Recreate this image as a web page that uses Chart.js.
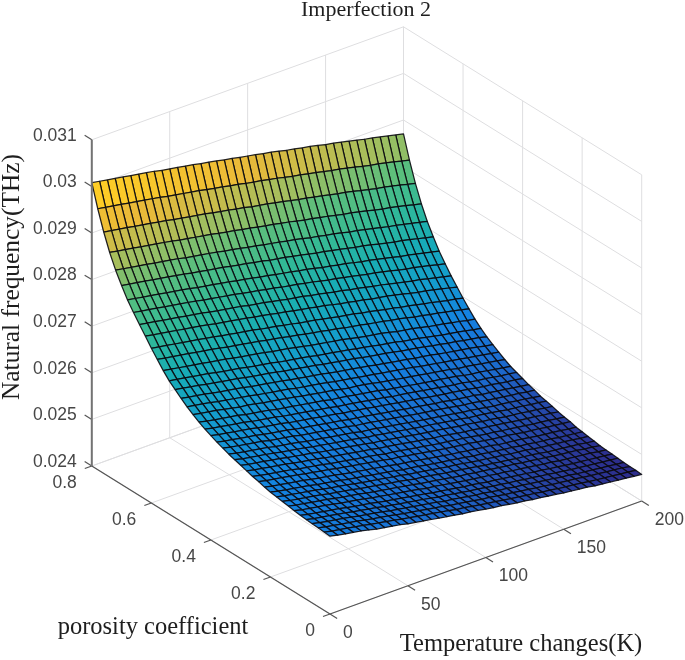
<!DOCTYPE html>
<html>
<head>
<meta charset="utf-8">
<title>Imperfection 2</title>
<script src="https://cdn.jsdelivr.net/npm/chart.js@4"></script>
<style>
  html, body { margin: 0; padding: 0; background: #fff; }
  canvas { display: block; filter: blur(0.5px); }
</style>
</head>
<body>
<canvas id="myChart" width="685" height="660"></canvas>
<script>
const temperatures = [0,5,10,15,20,25,30,35,40,45,50,55,60,65,70,75,80,85,90,95,100,105,110,115,120,125,130,135,140,145,150,155,160,165,170,175,180,185,190,195,200]
const porosities = [0.8,0.78,0.76,0.74,0.72,0.7,0.68,0.66,0.64,0.62,0.6,0.58,0.56,0.54,0.52,0.5,0.48,0.46,0.44,0.42,0.4,0.38,0.36,0.34,0.32,0.3,0.28,0.26,0.24,0.22,0.2,0.18,0.16,0.14,0.12,0.1,0.08,0.06,0.04,0.02,0]
const tempTicks = [0, 50, 100, 150, 200]
const porosityTicks = [0, 0.2, 0.4, 0.6, 0.8]
const freqTicks = [24, 25, 26, 27, 28, 29, 30, 31]
const freqTickLabels = ["0.024", "0.025", "0.026", "0.027", "0.028", "0.029", "0.03", "0.031"]

// natural frequency in 1e-3 THz, one row per porosity, one column per temperature
const frequency = [
[30.08,30.05,30.02,29.99,29.96,29.93,29.90,29.87,29.84,29.80,29.77,29.74,29.71,29.68,29.64,29.61,29.58,29.54,29.51,29.47,29.44,29.41,29.37,29.34,29.30,29.26,29.23,29.19,29.16,29.12,29.08,29.05,29.01,28.97,28.93,28.89,28.86,28.82,28.78,28.74,28.70],
[29.60,29.57,29.54,29.51,29.48,29.45,29.42,29.39,29.36,29.32,29.29,29.26,29.23,29.20,29.16,29.13,29.10,29.06,29.03,28.99,28.96,28.93,28.89,28.86,28.82,28.78,28.75,28.71,28.68,28.64,28.60,28.57,28.53,28.49,28.45,28.41,28.38,28.34,28.30,28.26,28.22],
[29.18,29.15,29.12,29.09,29.06,29.03,29.00,28.97,28.94,28.90,28.87,28.84,28.81,28.78,28.74,28.71,28.68,28.64,28.61,28.57,28.54,28.51,28.47,28.44,28.40,28.36,28.33,28.29,28.26,28.22,28.18,28.15,28.11,28.07,28.03,27.99,27.96,27.92,27.88,27.84,27.80],
[28.82,28.79,28.76,28.73,28.70,28.67,28.64,28.61,28.58,28.54,28.51,28.48,28.45,28.42,28.38,28.35,28.32,28.28,28.25,28.21,28.18,28.15,28.11,28.08,28.04,28.00,27.97,27.93,27.90,27.86,27.82,27.79,27.75,27.71,27.67,27.63,27.60,27.56,27.52,27.48,27.44],
[28.52,28.49,28.46,28.43,28.40,28.37,28.34,28.31,28.28,28.24,28.21,28.18,28.15,28.12,28.08,28.05,28.02,27.98,27.95,27.91,27.88,27.85,27.81,27.78,27.74,27.70,27.67,27.63,27.60,27.56,27.52,27.49,27.45,27.41,27.37,27.33,27.30,27.26,27.22,27.18,27.14],
[28.27,28.24,28.21,28.18,28.15,28.12,28.09,28.06,28.03,27.99,27.96,27.93,27.90,27.87,27.83,27.80,27.77,27.73,27.70,27.66,27.63,27.60,27.56,27.53,27.49,27.45,27.42,27.38,27.35,27.31,27.27,27.24,27.20,27.16,27.12,27.08,27.05,27.01,26.97,26.93,26.89],
[28.04,28.01,27.98,27.95,27.92,27.89,27.86,27.83,27.80,27.76,27.73,27.70,27.67,27.64,27.60,27.57,27.54,27.50,27.47,27.43,27.40,27.37,27.33,27.30,27.26,27.22,27.19,27.15,27.12,27.08,27.04,27.01,26.97,26.93,26.89,26.85,26.82,26.78,26.74,26.70,26.66],
[27.85,27.82,27.79,27.76,27.73,27.70,27.67,27.64,27.61,27.57,27.54,27.51,27.48,27.45,27.41,27.38,27.35,27.31,27.28,27.24,27.21,27.18,27.14,27.11,27.07,27.03,27.00,26.96,26.93,26.89,26.85,26.82,26.78,26.74,26.70,26.66,26.63,26.59,26.55,26.51,26.47],
[27.67,27.64,27.61,27.58,27.55,27.52,27.49,27.46,27.43,27.39,27.36,27.33,27.30,27.27,27.23,27.20,27.17,27.13,27.10,27.06,27.03,27.00,26.96,26.93,26.89,26.85,26.82,26.78,26.75,26.71,26.67,26.64,26.60,26.56,26.52,26.48,26.45,26.41,26.37,26.33,26.29],
[27.50,27.47,27.44,27.41,27.38,27.35,27.32,27.29,27.26,27.22,27.19,27.16,27.13,27.10,27.06,27.03,27.00,26.96,26.93,26.89,26.86,26.83,26.79,26.76,26.72,26.68,26.65,26.61,26.58,26.54,26.51,26.48,26.44,26.40,26.36,26.32,26.29,26.25,26.21,26.17,26.13],
[27.32,27.29,27.26,27.23,27.20,27.17,27.14,27.11,27.08,27.04,27.01,26.98,26.95,26.92,26.88,26.85,26.82,26.78,26.75,26.71,26.68,26.65,26.61,26.58,26.54,26.51,26.48,26.44,26.41,26.37,26.33,26.30,26.26,26.23,26.19,26.15,26.12,26.08,26.04,26.01,25.97],
[27.16,27.13,27.10,27.07,27.04,27.01,26.98,26.95,26.92,26.88,26.85,26.82,26.79,26.76,26.72,26.69,26.66,26.62,26.59,26.55,26.52,26.49,26.45,26.42,26.38,26.35,26.32,26.28,26.25,26.22,26.18,26.15,26.11,26.07,26.04,26.00,25.97,25.93,25.90,25.86,25.82],
[27.00,26.97,26.94,26.91,26.88,26.85,26.82,26.79,26.76,26.72,26.69,26.66,26.63,26.60,26.56,26.53,26.50,26.46,26.43,26.39,26.36,26.33,26.30,26.27,26.23,26.19,26.16,26.13,26.10,26.06,26.02,25.99,25.96,25.92,25.88,25.85,25.82,25.78,25.75,25.71,25.68],
[26.86,26.83,26.80,26.77,26.74,26.71,26.67,26.64,26.61,26.58,26.54,26.51,26.48,26.45,26.41,26.38,26.35,26.32,26.29,26.25,26.22,26.19,26.16,26.13,26.09,26.06,26.03,25.99,25.96,25.93,25.89,25.86,25.83,25.79,25.76,25.72,25.69,25.66,25.63,25.59,25.56],
[26.75,26.72,26.69,26.66,26.62,26.59,26.56,26.53,26.50,26.46,26.43,26.40,26.37,26.34,26.30,26.27,26.24,26.21,26.18,26.14,26.11,26.08,26.05,26.02,25.98,25.95,25.92,25.89,25.86,25.82,25.79,25.76,25.73,25.69,25.66,25.62,25.60,25.56,25.53,25.50,25.46],
[26.64,26.61,26.58,26.55,26.51,26.48,26.45,26.42,26.39,26.35,26.32,26.29,26.26,26.23,26.19,26.16,26.13,26.10,26.07,26.03,26.00,25.97,25.94,25.91,25.88,25.84,25.81,25.78,25.75,25.72,25.68,25.66,25.63,25.59,25.56,25.53,25.50,25.47,25.44,25.40,25.37],
[26.54,26.51,26.48,26.45,26.41,26.38,26.35,26.32,26.29,26.25,26.22,26.19,26.16,26.13,26.09,26.06,26.03,26.00,25.97,25.93,25.90,25.87,25.84,25.81,25.78,25.75,25.72,25.69,25.66,25.63,25.59,25.56,25.53,25.50,25.47,25.44,25.41,25.38,25.35,25.32,25.29],
[26.45,26.42,26.39,26.36,26.32,26.29,26.25,26.23,26.20,26.16,26.13,26.10,26.07,26.04,26.00,25.97,25.94,25.91,25.88,25.84,25.81,25.79,25.76,25.73,25.69,25.66,25.63,25.60,25.57,25.54,25.51,25.48,25.45,25.42,25.38,25.36,25.33,25.30,25.27,25.24,25.21],
[26.37,26.33,26.30,26.27,26.24,26.21,26.17,26.14,26.11,26.08,26.04,26.01,25.98,25.95,25.92,25.89,25.86,25.82,25.80,25.77,25.74,25.71,25.68,25.65,25.61,25.58,25.55,25.52,25.49,25.46,25.43,25.41,25.38,25.35,25.31,25.28,25.26,25.23,25.20,25.17,25.14],
[26.30,26.26,26.23,26.20,26.17,26.14,26.10,26.07,26.04,26.01,25.97,25.94,25.91,25.88,25.85,25.82,25.79,25.75,25.73,25.70,25.67,25.64,25.61,25.58,25.54,25.52,25.49,25.46,25.43,25.40,25.37,25.34,25.31,25.29,25.25,25.22,25.20,25.17,25.14,25.12,25.09],
[26.24,26.20,26.17,26.14,26.11,26.08,26.04,26.01,25.98,25.95,25.91,25.88,25.85,25.82,25.79,25.76,25.73,25.69,25.67,25.64,25.61,25.58,25.55,25.52,25.49,25.46,25.43,25.40,25.37,25.34,25.31,25.29,25.26,25.23,25.20,25.17,25.15,25.12,25.09,25.07,25.04],
[26.18,26.14,26.11,26.08,26.05,26.02,25.98,25.95,25.92,25.89,25.85,25.82,25.79,25.76,25.73,25.70,25.67,25.63,25.61,25.58,25.55,25.52,25.49,25.46,25.43,25.40,25.37,25.34,25.31,25.29,25.25,25.23,25.20,25.18,25.14,25.12,25.09,25.07,25.04,25.01,24.99],
[26.13,26.09,26.06,26.03,26.00,25.97,25.93,25.90,25.87,25.84,25.80,25.77,25.74,25.71,25.68,25.65,25.62,25.58,25.56,25.53,25.50,25.47,25.44,25.41,25.38,25.35,25.32,25.30,25.27,25.24,25.21,25.18,25.16,25.13,25.10,25.07,25.05,25.02,25.00,24.97,24.95],
[26.08,26.04,26.01,25.98,25.95,25.92,25.88,25.85,25.82,25.79,25.75,25.72,25.69,25.66,25.63,25.60,25.57,25.53,25.51,25.48,25.45,25.42,25.39,25.36,25.33,25.30,25.27,25.25,25.22,25.19,25.16,25.14,25.11,25.08,25.05,25.03,25.01,24.98,24.96,24.93,24.90],
[26.04,26.00,25.97,25.94,25.91,25.88,25.84,25.81,25.78,25.75,25.71,25.68,25.65,25.62,25.59,25.56,25.53,25.49,25.47,25.44,25.41,25.38,25.35,25.32,25.29,25.27,25.24,25.21,25.18,25.16,25.12,25.10,25.08,25.05,25.02,24.99,24.97,24.95,24.92,24.90,24.87],
[26.00,25.96,25.93,25.90,25.87,25.84,25.80,25.77,25.74,25.71,25.67,25.64,25.61,25.58,25.55,25.52,25.49,25.45,25.43,25.40,25.37,25.34,25.31,25.28,25.25,25.23,25.20,25.17,25.14,25.12,25.09,25.06,25.04,25.01,24.98,24.96,24.94,24.91,24.89,24.86,24.84],
[25.96,25.92,25.89,25.86,25.83,25.80,25.76,25.73,25.70,25.67,25.63,25.60,25.57,25.54,25.51,25.48,25.45,25.41,25.39,25.36,25.33,25.30,25.27,25.24,25.21,25.19,25.16,25.13,25.10,25.08,25.05,25.03,25.00,24.98,24.95,24.92,24.90,24.88,24.85,24.83,24.80],
[25.92,25.88,25.85,25.82,25.79,25.76,25.72,25.69,25.66,25.63,25.59,25.56,25.53,25.50,25.47,25.44,25.41,25.37,25.35,25.32,25.29,25.26,25.23,25.20,25.17,25.15,25.12,25.10,25.07,25.04,25.01,24.99,24.96,24.94,24.91,24.89,24.86,24.84,24.82,24.79,24.77],
[25.89,25.85,25.82,25.79,25.76,25.73,25.69,25.66,25.63,25.60,25.56,25.53,25.50,25.47,25.44,25.41,25.38,25.34,25.32,25.29,25.26,25.23,25.20,25.17,25.14,25.12,25.09,25.07,25.04,25.01,24.98,24.96,24.94,24.91,24.88,24.86,24.84,24.81,24.79,24.77,24.75],
[25.85,25.81,25.78,25.75,25.72,25.69,25.65,25.62,25.59,25.56,25.52,25.49,25.46,25.43,25.40,25.37,25.34,25.30,25.28,25.25,25.22,25.19,25.16,25.13,25.10,25.08,25.05,25.03,25.00,24.98,24.94,24.92,24.90,24.88,24.85,24.82,24.80,24.78,24.76,24.73,24.71],
[25.82,25.78,25.75,25.72,25.69,25.66,25.62,25.59,25.56,25.53,25.49,25.46,25.43,25.40,25.37,25.34,25.31,25.27,25.25,25.22,25.19,25.16,25.13,25.11,25.08,25.05,25.02,25.00,24.97,24.95,24.92,24.90,24.87,24.85,24.82,24.80,24.78,24.75,24.73,24.71,24.69],
[25.80,25.76,25.73,25.70,25.67,25.64,25.60,25.57,25.54,25.51,25.47,25.44,25.41,25.38,25.35,25.32,25.29,25.25,25.23,25.20,25.17,25.14,25.11,25.09,25.06,25.03,25.00,24.98,24.95,24.93,24.90,24.88,24.86,24.83,24.80,24.78,24.76,24.74,24.72,24.69,24.67],
[25.78,25.74,25.71,25.68,25.65,25.62,25.58,25.55,25.52,25.49,25.45,25.42,25.39,25.36,25.33,25.30,25.27,25.23,25.21,25.18,25.15,25.12,25.09,25.07,25.04,25.01,24.98,24.96,24.93,24.91,24.88,24.86,24.84,24.81,24.78,24.76,24.74,24.72,24.70,24.67,24.65],
[25.76,25.72,25.69,25.66,25.63,25.60,25.56,25.53,25.50,25.47,25.43,25.40,25.37,25.34,25.31,25.28,25.25,25.21,25.19,25.16,25.13,25.10,25.07,25.05,25.02,25.00,24.97,24.95,24.92,24.90,24.87,24.85,24.82,24.80,24.77,24.75,24.73,24.71,24.68,24.66,24.63],
[25.74,25.70,25.67,25.64,25.61,25.58,25.54,25.51,25.48,25.45,25.41,25.38,25.35,25.32,25.29,25.26,25.23,25.19,25.17,25.14,25.11,25.08,25.05,25.03,25.00,24.98,24.95,24.93,24.90,24.88,24.85,24.83,24.80,24.78,24.75,24.73,24.71,24.69,24.67,24.64,24.62],
[25.72,25.68,25.65,25.62,25.59,25.56,25.52,25.49,25.46,25.43,25.39,25.36,25.33,25.30,25.27,25.24,25.21,25.17,25.15,25.12,25.09,25.06,25.04,25.01,24.98,24.96,24.93,24.91,24.88,24.86,24.83,24.81,24.78,24.76,24.73,24.71,24.69,24.67,24.65,24.63,24.61],
[25.71,25.67,25.64,25.61,25.58,25.55,25.51,25.48,25.45,25.42,25.38,25.35,25.32,25.29,25.26,25.23,25.20,25.16,25.14,25.11,25.08,25.05,25.03,25.00,24.97,24.95,24.92,24.90,24.87,24.85,24.82,24.80,24.77,24.75,24.72,24.70,24.68,24.66,24.64,24.62,24.60],
[25.70,25.66,25.63,25.60,25.57,25.54,25.50,25.47,25.44,25.41,25.37,25.34,25.31,25.28,25.25,25.22,25.19,25.15,25.13,25.10,25.07,25.04,25.02,24.99,24.96,24.94,24.91,24.89,24.86,24.84,24.81,24.79,24.76,24.74,24.71,24.69,24.67,24.65,24.63,24.61,24.59],
[25.69,25.65,25.62,25.59,25.56,25.53,25.49,25.46,25.43,25.40,25.36,25.33,25.30,25.27,25.24,25.21,25.18,25.14,25.12,25.09,25.06,25.03,25.01,24.98,24.95,24.93,24.90,24.88,24.85,24.83,24.80,24.78,24.76,24.74,24.71,24.69,24.67,24.65,24.63,24.61,24.58],
[25.68,25.64,25.61,25.58,25.55,25.52,25.48,25.45,25.42,25.39,25.35,25.32,25.29,25.26,25.23,25.20,25.17,25.13,25.11,25.08,25.05,25.02,25.00,24.97,24.94,24.92,24.89,24.87,24.84,24.82,24.79,24.77,24.75,24.73,24.70,24.68,24.66,24.64,24.62,24.60,24.58],
[25.67,25.63,25.60,25.57,25.54,25.50,25.46,25.43,25.40,25.37,25.33,25.30,25.27,25.24,25.21,25.18,25.15,25.12,25.10,25.07,25.04,25.01,24.99,24.96,24.93,24.91,24.88,24.86,24.83,24.81,24.78,24.76,24.74,24.72,24.69,24.67,24.65,24.63,24.61,24.59,24.57]
]

// parula-like colour stops, spread evenly over the colour limits
const parula = [[45,45,140],[28,105,205],[20,130,225],[20,157,205],[24,173,180],[50,185,150],[90,190,125],[168,190,92],[235,186,56],[254,205,38],[250,240,20]]
const colorLimits = [24.6, 30.4]

// view of the box
const view = { x0: 330, y0: 614, tx: 311.7, ty: -113, px: -238.2, py: -148, fy: -46.6 }

const project = (t, p, f) => ({
  x: view.x0 + t / 200 * view.tx + p / 0.8 * view.px,
  y: view.y0 + t / 200 * view.ty + p / 0.8 * view.py + (f - 24) * view.fy
})

const colorFor = f => {
  const pos = Math.min(Math.max((f - colorLimits[0]) / (colorLimits[1] - colorLimits[0]), 0), 1) * (parula.length - 1)
  const i = Math.min(Math.floor(pos), parula.length - 2)
  const k = pos - i
  const c = parula[i].map((v, n) => Math.round(v + (parula[i + 1][n] - v) * k))
  return `rgb(${c[0]},${c[1]},${c[2]})`
}

const lineSet = (points, color, width) => ({
  data: points,
  showLine: true,
  borderColor: color,
  borderWidth: width,
  pointRadius: 0,
  fill: false
})

const gridColor = "rgb(222,222,224)"
const axisColor = "rgb(85,85,85)"
const fMin = freqTicks[0]
const fMax = freqTicks[freqTicks.length - 1]
const tMax = tempTicks[tempTicks.length - 1]
const pMax = porosityTicks[porosityTicks.length - 1]

// first dataset ends up on top in Chart.js, so axes come first, then the surface, then the grid
const datasets = []

datasets.push(lineSet([project(0, pMax, fMin), project(0, pMax, fMax)], "rgb(115,115,115)", 2))
datasets.push(lineSet([project(0, pMax, fMin), project(0, 0, fMin)], axisColor, 1.3))
datasets.push(lineSet([project(0, 0, fMin), project(tMax, 0, fMin)], axisColor, 1.3))
freqTicks.forEach(f => datasets.push(lineSet([project(0, pMax, f), project(0, pMax + 0.024, f)], axisColor, 1.2)))
porosityTicks.forEach(p => datasets.push(lineSet([project(0, p, fMin), project(-4.5, p, fMin)], axisColor, 1.2)))
tempTicks.forEach(t => datasets.push(lineSet([project(t, 0, fMin), project(t, -0.024, fMin)], axisColor, 1.2)))

// ***** surface, front cells first *****
for (let j = porosities.length - 2; j >= 0; j--) {
  for (let i = 0; i < temperatures.length - 1; i++) {
    const corners = [
      project(temperatures[i], porosities[j], frequency[j][i]),
      project(temperatures[i + 1], porosities[j], frequency[j][i + 1]),
      project(temperatures[i + 1], porosities[j + 1], frequency[j + 1][i + 1]),
      project(temperatures[i], porosities[j + 1], frequency[j + 1][i]),
      project(temperatures[i], porosities[j], frequency[j][i])
    ]
    const mean = (frequency[j][i] + frequency[j][i + 1] + frequency[j + 1][i + 1] + frequency[j + 1][i]) / 4
    datasets.push({
      data: corners,
      showLine: true,
      fill: "shape",
      backgroundColor: colorFor(mean),
      borderColor: "rgba(10,10,15,0.9)",
      borderWidth: 1.25,
      pointRadius: 0
    })
  }
}

// ***** walls and floor grid *****
freqTicks.forEach(f => {
  datasets.push(lineSet([project(0, pMax, f), project(tMax, pMax, f)], gridColor, 1))
  datasets.push(lineSet([project(tMax, pMax, f), project(tMax, 0, f)], gridColor, 1))
})
tempTicks.forEach(t => {
  datasets.push(lineSet([project(t, pMax, fMin), project(t, pMax, fMax)], gridColor, 1))
  datasets.push(lineSet([project(t, 0, fMin), project(t, pMax, fMin)], gridColor, 1))
})
porosityTicks.forEach(p => {
  datasets.push(lineSet([project(tMax, p, fMin), project(tMax, p, fMax)], gridColor, 1))
  datasets.push(lineSet([project(0, p, fMin), project(tMax, p, fMin)], gridColor, 1))
})

const labelsPlugin = {
  id: "labels",
  afterDraw(chart) {
    const { ctx, scales } = chart
    const at = pt => ({ x: scales.x.getPixelForValue(pt.x), y: scales.y.getPixelForValue(pt.y) })
    ctx.save()
    ctx.textBaseline = "middle"
    ctx.fillStyle = "rgb(70,70,70)"
    ctx.font = "17.5px 'Liberation Sans'"

    ctx.textAlign = "right"
    freqTicks.forEach((f, n) => {
      const pos = at(project(0, pMax, f))
      ctx.fillText(freqTickLabels[n], pos.x - 15, pos.y - 4)
    })
    porosityTicks.forEach(p => {
      const pos = at(project(0, p, fMin))
      ctx.fillText(String(p), pos.x - 15, pos.y + 17)
    })
    ctx.textAlign = "left"
    tempTicks.forEach(t => {
      const pos = at(project(t, 0, fMin))
      ctx.fillText(String(t), pos.x + 13, pos.y + 19)
    })

    ctx.fillStyle = "rgb(30,30,30)"
    ctx.textAlign = "center"
    ctx.font = "22px 'Liberation Serif'"
    ctx.fillText("Imperfection 2", 366, 10)
    ctx.font = "24.5px 'Liberation Serif'"
    ctx.fillText("porosity coefficient", 153, 628)
    ctx.fillText("Temperature changes(K)", 521, 645)
    ctx.translate(12, 277)
    ctx.rotate(-Math.PI / 2)
    ctx.font = "25.4px 'Liberation Serif'"
    ctx.fillText("Natural frequency(THz)", 0, 0)
    ctx.restore()
  }
}

const ctx = document.getElementById("myChart").getContext("2d")
const myChart = new Chart(ctx, {
  type: "scatter",
  data: { datasets },
  options: {
    responsive: false,
    animation: false,
    events: [],
    layout: { padding: 0 },
    elements: { line: { tension: 0, borderJoinStyle: "round" } },
    plugins: {
      legend: { display: false },
      tooltip: { enabled: false },
      title: { display: false }
    },
    scales: {
      x: { type: "linear", min: 0, max: 685, display: false },
      y: { type: "linear", min: 0, max: 660, reverse: true, display: false }
    }
  },
  plugins: [labelsPlugin]
})
</script>
</body>
</html>
